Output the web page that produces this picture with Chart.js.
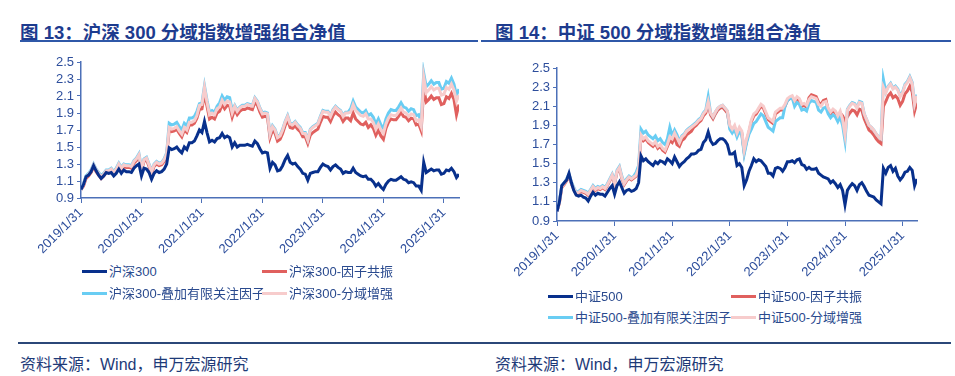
<!DOCTYPE html>
<html>
<head>
<meta charset="utf-8">
<script src="https://cdn.jsdelivr.net/npm/chart.js@4.4.1/dist/chart.umd.min.js"></script>
<style>
  body { margin: 0; width: 955px; height: 376px; background: #fff; position: relative; overflow: hidden;
         font-family: "Liberation Sans", "Noto Sans CJK SC", sans-serif; }
  .title { position: absolute; top: 18px; font-size: 18.5px; font-weight: bold; color: #1d3b8e; white-space: nowrap; }
  .rule { position: absolute; height: 2px; background: #2f58a8; }
  .foot { position: absolute; top: 351px; font-size: 16px; color: #1e3a78; white-space: nowrap; }
  canvas { position: absolute; }
  .leg { position: absolute; font-size: 13px; color: #2a4a8e; white-space: nowrap; line-height: 16px; }
  .leg i { display: inline-block; width: 25px; height: 3px; vertical-align: middle; margin-right: 2px; margin-top: -2px; }
</style>
</head>
<body>
<div class="title" style="left:20px">图 13：沪深 300 分域指数增强组合净值</div>
<div class="title" style="left:495px">图 14：中证 500 分域指数增强组合净值</div>
<div class="rule" style="left:20px; top:40px; width:458px"></div>
<div class="rule" style="left:481px; top:40px; width:470px"></div>

<canvas id="c300" width="478" height="210" style="left:0; top:48px"></canvas>
<canvas id="c500" width="477" height="231" style="left:478px; top:50px"></canvas>
<div id="legends"></div>

<div class="rule" style="left:18px; top:342px; width:933px; background:#2b4778"></div>
<div class="foot" style="left:20px">资料来源：Wind，申万宏源研究</div>
<div class="foot" style="left:495px">资料来源：Wind，申万宏源研究</div>

<script>
// x axis: half-month steps starting 2019/1/31
const monthStep = 0.5;
const xTickLabels = ['2019/1/31', '2020/1/31', '2021/1/31', '2022/1/31', '2023/1/31', '2024/1/31', '2025/1/31'];
const yTickValues = [0.9, 1.1, 1.3, 1.5, 1.7, 1.9, 2.1, 2.3, 2.5];

// 沪深300 panel
const names300 = ['沪深300', '沪深300-因子共振', '沪深300-叠加有限关注因子', '沪深300-分域增强'];
const hs300 = [1.00,1.06,1.15,1.17,1.21,1.28,1.22,1.17,1.13,1.16,1.20,
  1.19,1.20,1.16,1.19,1.24,1.19,1.23,1.21,1.21,1.20,
  1.25,1.28,1.30,1.16,1.25,1.24,1.20,1.12,1.19,1.22,
  1.20,1.21,1.24,1.30,1.49,1.47,1.48,1.50,1.46,1.43,
  1.50,1.47,1.55,1.55,1.57,1.63,1.70,1.67,1.80,1.67,
  1.56,1.58,1.56,1.60,1.61,1.66,1.61,1.63,1.61,1.50,
  1.55,1.50,1.52,1.52,1.52,1.53,1.52,1.51,1.57,1.54,
  1.48,1.43,1.44,1.43,1.25,1.32,1.29,1.22,1.23,1.28,
  1.35,1.40,1.32,1.30,1.31,1.27,1.24,1.19,1.18,1.11,
  1.19,1.20,1.21,1.21,1.26,1.30,1.28,1.27,1.23,1.27,
  1.29,1.26,1.24,1.19,1.21,1.20,1.20,1.25,1.20,1.18,
  1.16,1.15,1.16,1.12,1.12,1.09,1.04,1.07,1.03,1.00,
  1.06,1.10,1.12,1.11,1.11,1.13,1.15,1.12,1.11,1.08,
  1.09,1.08,1.04,1.04,0.99,1.32,1.20,1.22,1.24,1.22,
  1.23,1.23,1.18,1.19,1.23,1.22,1.25,1.21,1.14,1.18];
const hs300Resonance = [1.00,1.04,1.13,1.16,1.20,1.27,1.21,1.17,1.13,1.16,1.20,
  1.20,1.22,1.18,1.22,1.28,1.23,1.27,1.26,1.26,1.25,
  1.31,1.34,1.39,1.22,1.33,1.35,1.27,1.19,1.27,1.30,
  1.28,1.29,1.33,1.40,1.70,1.68,1.69,1.71,1.66,1.62,
  1.70,1.67,1.76,1.76,1.78,1.84,1.94,1.95,2.12,1.98,
  1.83,1.85,1.83,1.90,1.92,2.00,1.95,1.99,1.98,1.85,
  1.94,1.88,1.92,1.94,1.94,1.96,1.95,1.94,2.03,1.99,
  1.91,1.85,1.86,1.85,1.61,1.70,1.66,1.57,1.59,1.66,
  1.75,1.82,1.73,1.72,1.75,1.71,1.68,1.62,1.62,1.54,
  1.64,1.67,1.69,1.71,1.79,1.86,1.85,1.85,1.80,1.87,
  1.91,1.88,1.86,1.80,1.84,1.84,1.81,1.90,1.83,1.80,
  1.77,1.76,1.79,1.73,1.76,1.72,1.64,1.70,1.63,1.59,
  1.72,1.79,1.83,1.82,1.82,1.86,1.91,1.86,1.85,1.81,
  1.84,1.83,1.76,1.77,1.69,2.19,2.03,2.06,2.10,2.06,
  2.08,2.08,2.00,2.01,2.09,2.07,2.13,2.06,1.88,2.00];
const hs300Attention = [1.00,1.07,1.16,1.19,1.23,1.30,1.24,1.20,1.16,1.19,1.23,
  1.23,1.25,1.21,1.25,1.31,1.26,1.30,1.29,1.29,1.28,
  1.34,1.37,1.42,1.25,1.36,1.38,1.30,1.22,1.30,1.33,
  1.31,1.32,1.36,1.43,1.78,1.76,1.77,1.79,1.74,1.70,
  1.78,1.75,1.84,1.84,1.86,1.92,2.01,2.02,2.22,2.05,
  1.91,1.93,1.91,1.98,2.02,2.10,2.05,2.09,2.08,1.93,
  1.99,1.93,1.97,1.99,1.99,2.01,2.00,1.99,2.08,2.04,
  1.96,1.90,1.91,1.90,1.66,1.75,1.71,1.62,1.64,1.71,
  1.80,1.87,1.78,1.77,1.80,1.76,1.73,1.67,1.67,1.59,
  1.71,1.74,1.76,1.78,1.86,1.93,1.92,1.92,1.87,1.94,
  1.98,1.95,1.93,1.87,1.91,1.91,1.95,2.04,1.97,1.94,
  1.91,1.90,1.93,1.87,1.89,1.85,1.77,1.83,1.76,1.72,
  1.83,1.90,1.94,1.93,1.93,1.97,2.02,1.97,1.96,1.92,
  1.95,1.94,1.87,1.88,1.80,2.37,2.21,2.24,2.28,2.24,
  2.26,2.26,2.18,2.19,2.27,2.25,2.31,2.24,2.11,2.18];
const hs300Domain = [1.00,1.06,1.15,1.18,1.22,1.29,1.23,1.19,1.15,1.18,1.22,
  1.22,1.24,1.20,1.24,1.30,1.25,1.29,1.28,1.28,1.27,
  1.33,1.36,1.41,1.24,1.35,1.37,1.29,1.21,1.29,1.32,
  1.30,1.31,1.35,1.42,1.73,1.71,1.72,1.74,1.69,1.65,
  1.73,1.70,1.79,1.79,1.81,1.87,1.99,2.00,2.20,2.03,
  1.88,1.90,1.88,1.95,1.97,2.05,2.00,2.04,2.03,1.90,
  1.98,1.92,1.96,1.98,1.98,2.00,1.99,1.98,2.07,2.03,
  1.95,1.89,1.90,1.89,1.65,1.74,1.70,1.61,1.63,1.70,
  1.79,1.86,1.77,1.76,1.79,1.75,1.72,1.66,1.66,1.58,
  1.70,1.73,1.75,1.77,1.85,1.92,1.91,1.91,1.86,1.93,
  1.97,1.94,1.92,1.86,1.90,1.90,1.91,2.00,1.93,1.90,
  1.87,1.86,1.89,1.83,1.83,1.79,1.71,1.77,1.70,1.66,
  1.77,1.84,1.88,1.87,1.87,1.91,1.96,1.91,1.90,1.86,
  1.89,1.88,1.81,1.82,1.74,2.32,2.14,2.17,2.21,2.17,
  2.19,2.19,2.11,2.12,2.20,2.18,2.24,2.17,2.04,2.11];

// 中证500 panel
const names500 = ['中证500', '中证500-因子共振', '中证500-叠加有限关注因子', '中证500-分域增强'];
const zz500 = [1.00,1.10,1.27,1.30,1.33,1.40,1.30,1.22,1.17,1.16,1.17,
  1.15,1.14,1.11,1.16,1.20,1.17,1.19,1.18,1.18,1.16,
  1.20,1.24,1.27,1.18,1.27,1.31,1.25,1.19,1.22,1.23,
  1.21,1.22,1.24,1.30,1.58,1.53,1.55,1.52,1.50,1.48,
  1.52,1.50,1.53,1.52,1.50,1.55,1.53,1.50,1.57,1.52,
  1.47,1.50,1.52,1.55,1.57,1.60,1.60,1.61,1.64,1.65,
  1.72,1.75,1.83,1.74,1.70,1.71,1.74,1.76,1.76,1.74,
  1.70,1.60,1.60,1.62,1.48,1.50,1.46,1.27,1.33,1.42,
  1.48,1.55,1.52,1.54,1.53,1.50,1.47,1.40,1.40,1.37,
  1.45,1.46,1.45,1.42,1.46,1.52,1.52,1.53,1.51,1.54,
  1.55,1.49,1.48,1.44,1.46,1.44,1.44,1.45,1.40,1.38,
  1.36,1.35,1.34,1.30,1.32,1.29,1.25,1.28,1.22,1.07,
  1.22,1.26,1.29,1.27,1.22,1.28,1.30,1.26,1.21,1.17,
  1.16,1.15,1.12,1.10,1.08,1.45,1.40,1.46,1.48,1.42,
  1.45,1.37,1.33,1.36,1.41,1.42,1.46,1.43,1.27,1.34];
const zz500Resonance = [1.00,1.09,1.25,1.28,1.32,1.37,1.29,1.23,1.18,1.19,1.21,
  1.20,1.19,1.17,1.21,1.25,1.22,1.24,1.23,1.25,1.23,
  1.27,1.32,1.37,1.29,1.41,1.45,1.35,1.28,1.32,1.35,
  1.33,1.35,1.37,1.44,1.78,1.74,1.76,1.72,1.70,1.68,
  1.71,1.66,1.68,1.64,1.62,1.68,1.74,1.72,1.78,1.70,
  1.68,1.74,1.76,1.80,1.82,1.84,1.88,1.90,1.93,1.95,
  2.00,2.03,2.12,2.01,1.97,2.02,2.06,2.08,2.09,2.06,
  2.03,1.88,1.84,1.88,1.80,1.86,1.82,1.62,1.74,1.83,
  1.94,2.00,2.02,2.06,2.10,2.08,2.02,1.96,1.94,1.92,
  2.02,2.04,2.06,2.06,2.10,2.16,2.18,2.19,2.14,2.18,
  2.16,2.10,2.11,2.09,2.19,2.22,2.21,2.20,2.14,2.12,
  2.16,2.17,2.06,2.02,2.05,2.03,1.98,2.03,2.00,1.95,
  1.99,2.03,2.06,2.05,2.01,2.07,2.06,1.97,1.91,1.85,
  1.83,1.80,1.76,1.73,1.71,2.10,2.15,2.21,2.24,2.19,
  2.21,2.18,2.11,2.15,2.23,2.26,2.31,2.25,2.05,2.14];
const zz500Attention = [1.00,1.11,1.27,1.30,1.34,1.39,1.31,1.25,1.20,1.21,1.23,
  1.22,1.21,1.19,1.23,1.27,1.24,1.26,1.25,1.27,1.25,
  1.29,1.34,1.39,1.31,1.43,1.47,1.37,1.30,1.34,1.37,
  1.35,1.37,1.41,1.48,1.86,1.82,1.84,1.80,1.78,1.76,
  1.79,1.74,1.76,1.72,1.70,1.76,1.88,1.79,1.85,1.80,
  1.73,1.79,1.81,1.85,1.87,1.89,1.91,1.93,1.96,1.98,
  2.03,2.06,2.20,2.03,1.99,2.04,2.08,2.10,2.11,2.08,
  2.05,1.86,1.82,1.86,1.78,1.84,1.80,1.60,1.72,1.81,
  1.86,1.92,1.94,1.98,2.02,2.00,1.94,1.88,1.86,1.84,
  1.94,1.96,1.98,1.98,2.10,2.16,2.18,2.19,2.10,2.14,
  2.12,2.06,2.07,2.05,2.13,2.16,2.15,2.14,2.06,2.04,
  2.08,2.09,2.02,1.98,2.01,1.99,1.94,1.99,1.90,1.74,
  2.07,2.11,2.14,2.13,2.09,2.15,2.14,2.02,1.96,1.90,
  1.88,1.85,1.81,1.78,1.76,2.38,2.25,2.31,2.34,2.29,
  2.31,2.28,2.21,2.25,2.33,2.36,2.41,2.35,2.13,2.22];
const zz500Domain = [1.00,1.10,1.26,1.29,1.33,1.38,1.30,1.24,1.19,1.20,1.22,
  1.21,1.20,1.18,1.22,1.26,1.23,1.25,1.24,1.26,1.24,
  1.28,1.33,1.38,1.30,1.42,1.46,1.36,1.29,1.33,1.36,
  1.34,1.36,1.38,1.45,1.80,1.76,1.78,1.74,1.72,1.70,
  1.73,1.68,1.70,1.66,1.64,1.70,1.78,1.76,1.82,1.77,
  1.72,1.78,1.80,1.84,1.86,1.88,1.90,1.92,1.95,1.97,
  2.02,2.05,2.15,2.03,1.99,2.04,2.08,2.10,2.11,2.08,
  2.05,1.90,1.86,1.90,1.82,1.88,1.84,1.64,1.76,1.85,
  1.96,2.02,2.04,2.08,2.12,2.10,2.04,1.98,1.96,1.94,
  2.04,2.06,2.08,2.08,2.12,2.18,2.20,2.21,2.16,2.20,
  2.18,2.12,2.13,2.11,2.17,2.20,2.19,2.18,2.12,2.10,
  2.14,2.15,2.08,2.04,2.07,2.05,2.00,2.05,1.96,1.80,
  2.06,2.10,2.13,2.12,2.08,2.14,2.13,2.02,1.96,1.90,
  1.88,1.85,1.81,1.78,1.76,2.30,2.24,2.30,2.33,2.28,
  2.30,2.27,2.20,2.24,2.32,2.35,2.40,2.34,2.12,2.21];

const colors = ['#08308c', '#e0605e', '#69cdf3', '#f7cccc'];
const drawOrder = [0, 3, 2, 1];   // benchmark on top, then 分域增强
const axisColor = '#4d70b8';
const tickColor = '#2d4e9c';

function toPoints(arr) {
  return arr.map((v, i) => ({ x: i * monthStep, y: v }));
}

function buildChart(canvasId, names, series, pad, yWidth, xHeight) {
  const datasets = series.map((s, k) => ({
    label: names[k],
    data: toPoints(s),
    borderColor: colors[k],
    borderWidth: 3,
    pointRadius: 0,
    tension: 0,
    fill: false,
    order: drawOrder[k]
  }));
  return new Chart(document.getElementById(canvasId), {
    type: 'line',
    data: { datasets },
    options: {
      responsive: false,
      animation: false,
      layout: { padding: pad },
      plugins: { legend: { display: false }, tooltip: { enabled: false } },
      scales: {
        x: {
          type: 'linear', min: 0, max: 75,
          afterFit: s => { s.height = xHeight; },
          afterBuildTicks: s => { s.ticks = xTickLabels.map((_, k) => ({ value: k * 12 })); },
          ticks: {
            autoSkip: false, minRotation: 45, maxRotation: 45, padding: 2,
            color: tickColor, font: { size: 13, family: 'Liberation Sans' },
            callback: v => xTickLabels[Math.round(v / 12)]
          },
          grid: { drawOnChartArea: false, drawTicks: true, tickLength: 5, color: axisColor },
          border: { display: true, color: axisColor, width: 1.5 }
        },
        y: {
          min: 0.9, max: 2.5,
          afterFit: s => { s.width = yWidth; },
          afterBuildTicks: s => { s.ticks = yTickValues.map(v => ({ value: v })); },
          ticks: {
            autoSkip: false, padding: 3, color: tickColor, font: { size: 13, family: 'Liberation Sans' },
            callback: v => v.toFixed(1)
          },
          grid: { drawOnChartArea: false, drawTicks: true, tickLength: 4, color: axisColor },
          border: { display: true, color: axisColor, width: 1.5 }
        }
      }
    }
  });
}

buildChart('c300', names300, [hs300, hs300Resonance, hs300Attention, hs300Domain],
  { top: 14, right: 19, left: 0, bottom: 0 }, 81, 60);
buildChart('c500', names500, [zz500, zz500Resonance, zz500Attention, zz500Domain],
  { top: 18, right: 38, left: 0, bottom: 0 }, 79, 60);

// legends: two columns, two rows under each panel
function buildLegend(names, x0, x1, y0, y1) {
  const box = document.getElementById('legends');
  const spots = [[x0, y0], [x1, y0], [x0, y1], [x1, y1]];
  names.forEach((n, k) => {
    const d = document.createElement('div');
    d.className = 'leg';
    d.style.left = spots[k][0] + 'px';
    d.style.top = (spots[k][1] - 8) + 'px';
    d.innerHTML = '<i style="background:' + colors[k] + '"></i>' + n;
    box.appendChild(d);
  });
}
buildLegend(names300, 82, 262, 272, 294);
buildLegend(names500, 548, 731, 297, 318);
</script>
</body>
</html>
